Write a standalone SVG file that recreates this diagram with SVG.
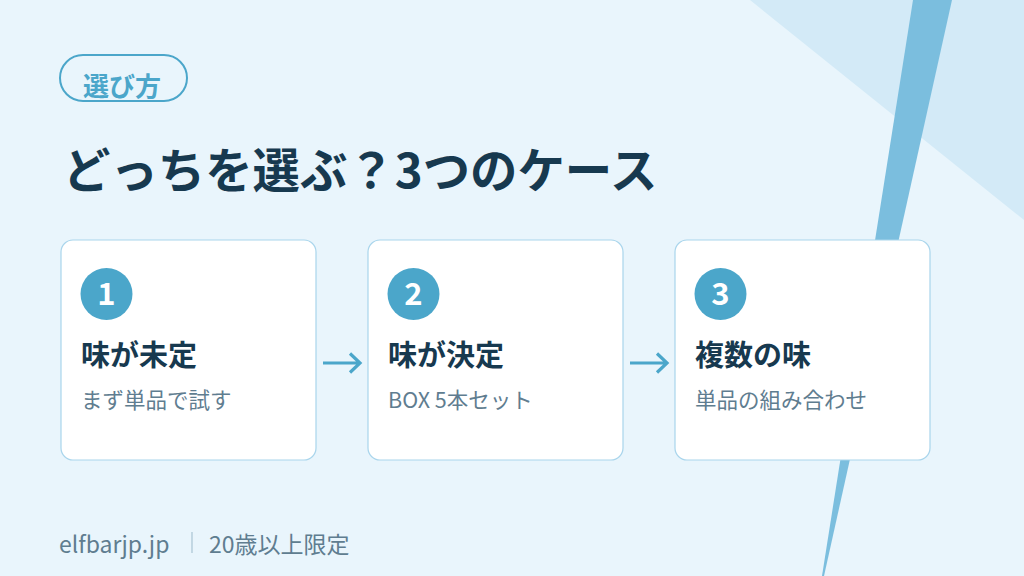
<svg xmlns="http://www.w3.org/2000/svg" width="1024" height="576" viewBox="0 0 1024 576">
<style>
.jp{font-family:"Noto Sans CJK JP","Noto Sans",sans-serif}
.card{fill:#FFFFFF;stroke:#A9D5EC;stroke-width:1.2}
.badge{fill:#4BA6CA}
.num{font-size:31px;font-weight:700;fill:#FFFFFF;text-anchor:middle}
.ttl{font-size:29px;font-weight:700;fill:#17394F}
.sub{font-size:21.5px;fill:#5F7D90}
.conn{stroke:#4BA6CA;stroke-width:3.2;fill:none;stroke-linecap:butt}
</style>
<rect width="1024" height="576" fill="#E9F5FC"/>
<polygon points="750,0 1024,0 1024,220" fill="#D3EAF7"/>
<polygon points="913,0 952,0 824,576 822,576" fill="#7BBEDE"/>
<g id="tag">
<rect x="60" y="55" width="127" height="46" rx="23" fill="none" stroke="#4BA6CA" stroke-width="2"/>
<text class="jp" x="122" y="96" font-size="26" font-weight="700" fill="#4BA6CA" text-anchor="middle">選び方</text>
</g>
<text class="jp" x="63" y="188" font-size="47.4" font-weight="700" fill="#17394F">どっちを選ぶ？3つのケース</text>
<g id="connectors">
<path class="conn" d="M323,363 H360 M350,353.5 L360,363 L350,372.5"/>
<path class="conn" d="M630,363 H667 M657,353.5 L667,363 L657,372.5"/>
</g>
<g id="case1">
<rect class="card" x="61" y="240" width="255" height="220" rx="12"/>
<circle class="badge" cx="106.5" cy="294" r="26"/>
<text class="jp num" x="106.5" y="305">1</text>
<text class="jp ttl" x="81" y="366">味が未定</text>
<text class="jp sub" x="81" y="408">まず単品で試す</text>
</g>
<g id="case2">
<rect class="card" x="368" y="240" width="255" height="220" rx="12"/>
<circle class="badge" cx="413.5" cy="294" r="26"/>
<text class="jp num" x="413.5" y="305">2</text>
<text class="jp ttl" x="388" y="366">味が決定</text>
<text class="jp sub" x="388" y="408">BOX 5本セット</text>
</g>
<g id="case3">
<rect class="card" x="675" y="240" width="255" height="220" rx="12"/>
<circle class="badge" cx="720.5" cy="294" r="26"/>
<text class="jp num" x="720.5" y="305">3</text>
<text class="jp ttl" x="695" y="366">複数の味</text>
<text class="jp sub" x="695" y="408">単品の組み合わせ</text>
</g>
<g id="footer">
<text class="jp" x="59" y="553" font-size="23" fill="#5F7D90">elfbarjp.jp</text>
<line x1="192" y1="532" x2="192" y2="553" stroke="#A9C4D3" stroke-width="1.2"/>
<text class="jp" x="209" y="553" font-size="23" fill="#5F7D90">20歳以上限定</text>
</g>
</svg>
